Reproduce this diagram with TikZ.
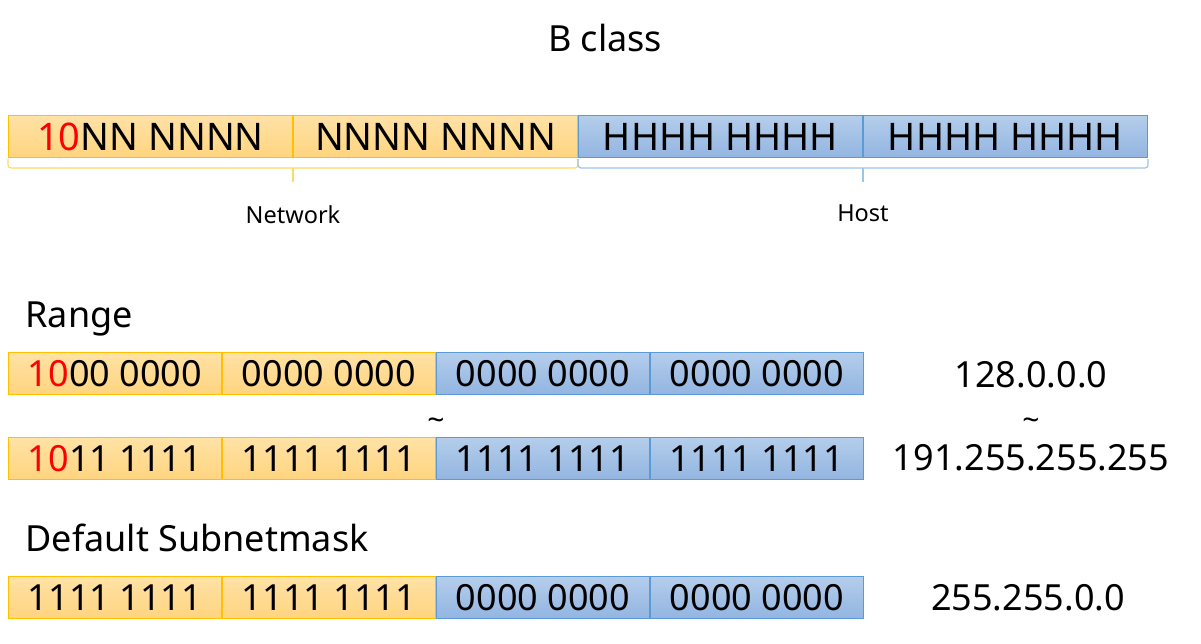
\documentclass[tikz,border=0pt]{standalone}
\usepackage{fontspec}
\setmainfont{Noto Sans}
\usetikzlibrary{positioning}
\definecolor{netline}{HTML}{FFC000}
\definecolor{nettop}{HTML}{FFE2A6}
\definecolor{netbot}{HTML}{FFD47F}
\definecolor{hostline}{HTML}{5B9BD5}
\definecolor{hosttop}{HTML}{B4CDEB}
\definecolor{hostbot}{HTML}{93B5E1}
\definecolor{netbr}{HTML}{FFD966}
\definecolor{hostbr}{HTML}{9DC3E6}

\begin{document}
\begin{tikzpicture}[x=1pt,y=-1pt,node distance=0pt,
    bits/.style={minimum height=42pt,inner sep=0pt,line width=1pt,font=\fontsize{36}{40}\selectfont},
    netbox/.style={bits,draw=netline,top color=nettop,bottom color=netbot},
    hostbox/.style={bits,draw=hostline,top color=hosttop,bottom color=hostbot},
    wide/.style={minimum width=284pt,font=\fontsize{38}{42}\selectfont},
    narrow/.style={minimum width=213pt},
    title/.style={font=\fontsize{36}{40}\selectfont},
    lbl/.style={font=\fontsize{23.5}{26}\selectfont},
    tld/.style={font=\fontsize{30}{32}\selectfont}]
    \useasboundingbox (0,0) rectangle (1201,643);
    \node[title] (bclass) at (605,38) {B class};
    % class B layout
    \node[netbox,wide,anchor=north west] (n1) at (8,115) {{\color{red}10}NN NNNN};
    \node[netbox,wide,right=of n1] (n2) {NNNN NNNN};
    \node[hostbox,wide,right=of n2] (h1) {HHHH HHHH};
    \node[hostbox,wide,right=of h1] (h2) {HHHH HHHH};
    \draw[netbr,line width=1.2pt,rounded corners=3pt] ([yshift=-1pt]n1.south west) -- ++(0,9) -| ([yshift=-1pt]n2.south east);
    \draw[netbr,line width=1.2pt] ([yshift=-10pt]n1.south east) -- ++(0,14);
    \draw[hostbr,line width=1.2pt,rounded corners=3pt] ([yshift=-1pt]h1.south west) -- ++(0,9) -| ([yshift=-1pt]h2.south east);
    \draw[hostbr,line width=1.2pt] ([yshift=-10pt]h1.south east) -- ++(0,14);
    \node[lbl] (netlbl) at (293,215) {Network};
    \node[lbl] (hostlbl) at (863,213) {Host};
    % range
    \node[title,anchor=base west] (range) at (22,327) {Range};
    \node[netbox,narrow,anchor=north west] (lo1) at (8,352) {{\color{red}10}00 0000};
    \node[netbox,narrow,right=of lo1] (lo2) {0000 0000};
    \node[hostbox,narrow,right=of lo2] (lo3) {0000 0000};
    \node[hostbox,narrow,right=of lo3] (lo4) {0000 0000};
    \node[title] (loval) at (1031,375) {128.0.0.0};
    \node[tld] (tilde1) at (436,424) {\textasciitilde};
    \node[tld] (tilde2) at (1031,424) {\textasciitilde};
    \node[netbox,narrow,anchor=north west] (hi1) at (8,437) {{\color{red}10}11 1111};
    \node[netbox,narrow,right=of hi1] (hi2) {1111 1111};
    \node[hostbox,narrow,right=of hi2] (hi3) {1111 1111};
    \node[hostbox,narrow,right=of hi3] (hi4) {1111 1111};
    \node[title] (hival) at (1031,458) {191.255.255.255};
    % default mask
    \node[title,anchor=base west] (mask) at (22,551) {Default Subnetmask};
    \node[netbox,narrow,anchor=north west] (m1) at (8,576) {1111 1111};
    \node[netbox,narrow,right=of m1] (m2) {1111 1111};
    \node[hostbox,narrow,right=of m2] (m3) {0000 0000};
    \node[hostbox,narrow,right=of m3] (m4) {0000 0000};
    \node[title] (maskval) at (1028,598) {255.255.0.0};
\end{tikzpicture}
\end{document}
